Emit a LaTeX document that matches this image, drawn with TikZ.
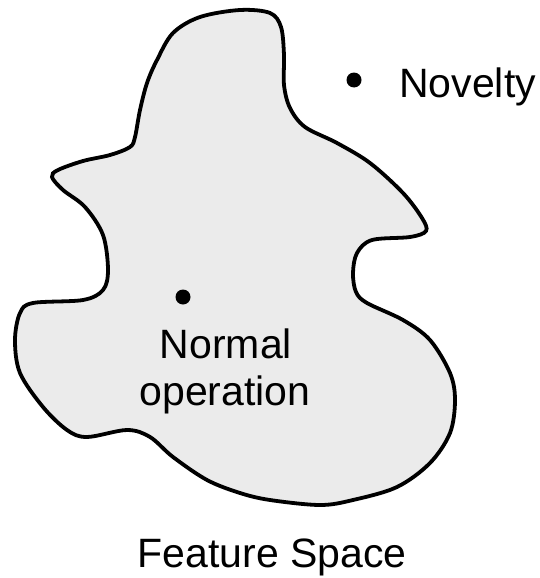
\documentclass[tikz,border=0pt]{standalone}
\usepackage{fontspec}
\setmainfont{Liberation Sans}
\usetikzlibrary{calc}
\usetikzlibrary{positioning}

\definecolor{blobgray}{RGB}{235,235,235}

\tikzset{
  dot/.style={circle,fill=black,inner sep=0pt,minimum size=15pt},
  lbl/.style={inner sep=0pt,font=\fontsize{41}{47}\selectfont}
}

\begin{document}
\begin{tikzpicture}[x=1pt,y=-1pt]
\useasboundingbox (0,0) rectangle (540,578);
% feature space region
\draw[line width=3.8pt,fill=blobgray] plot[smooth cycle,tension=0.55] coordinates {
  (200,17) (240,10) (270,13) (281,27) (284,55) (284,85) (290,108) (305,127)
  (337,143) (370,163) (403,193) (422,218) (426,231) (410,237) (372,240)
  (357,253) (353,273) (356,292) (367,303) (403,320) (430,340) (450,373)
  (455,400) (450,433) (430,463) (397,487) (353,500) (320,505) (270,500)
  (240,493) (207,480) (173,457) (150,437) (127,430) (87,437) (67,430)
  (43,407) (20,373) (15,340) (20,313) (33,303) (83,300) (103,290) (108,270)
  (103,235) (85,207) (63,190) (52,177) (58,170) (83,161) (110,155) (130,147)
  (135,137) (140,110) (147,83) (157,60) (173,33)};

\node[dot] (nov) at (354,80) {};
\node[lbl,anchor=base west] (novtxt) at (399,97) {Novelty};

\node[dot] (norm) at (183,297) {};
\node[lbl,anchor=base] (normtxt) at (226,358) {Normal};
\node[lbl,anchor=base] (optxt) at (225,405) {operation};

\node[lbl,anchor=base] (fspace) at (272,567) {Feature Space};
\end{tikzpicture}
\end{document}
